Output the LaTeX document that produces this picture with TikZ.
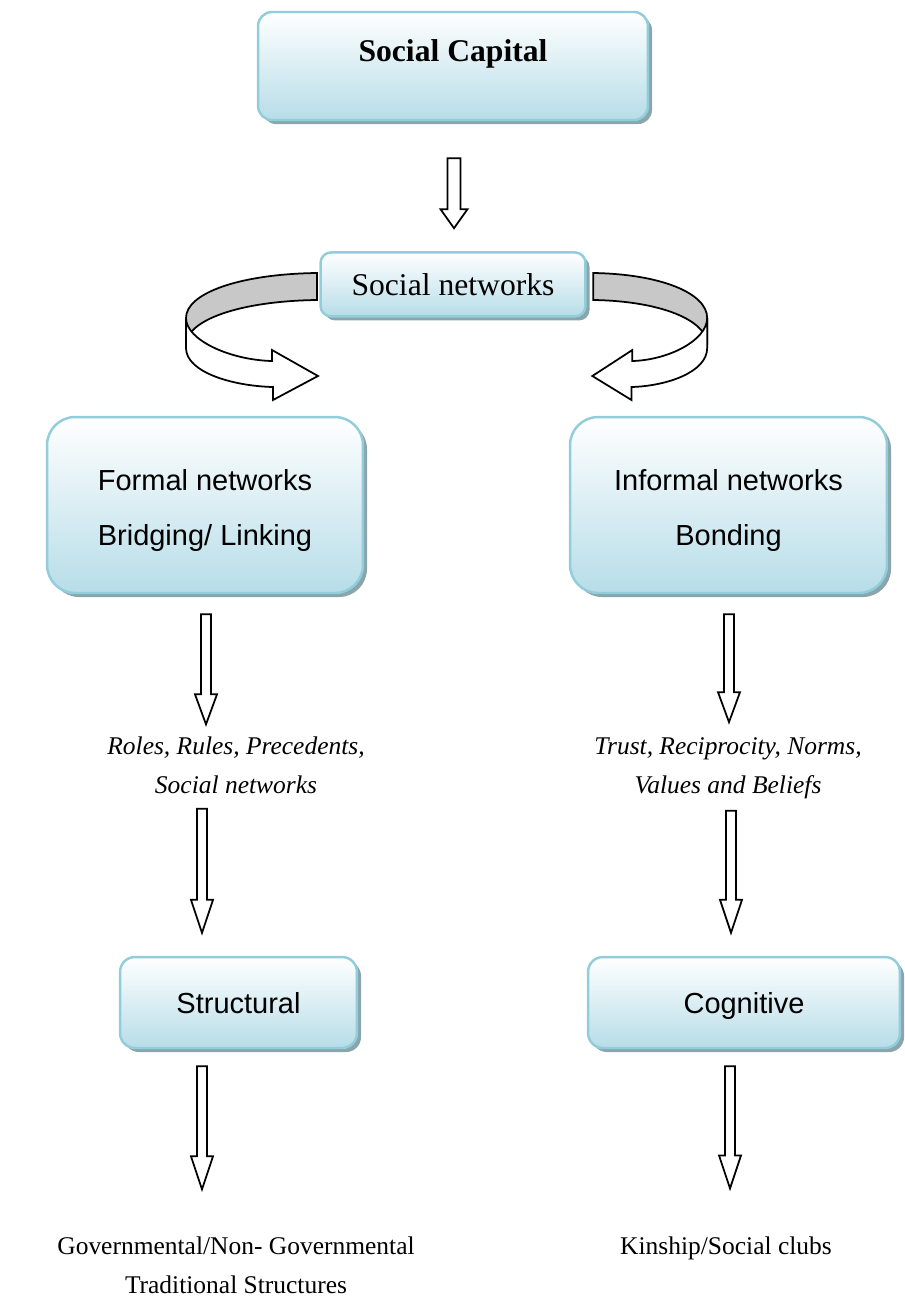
\documentclass[tikz,border=0pt]{standalone}
\usepackage{fontspec}
\setmainfont{Liberation Serif}
\setsansfont{Liberation Sans}
\usetikzlibrary{positioning,calc,shadows}
\definecolor{boxline}{RGB}{146,205,220}
\definecolor{boxfill}{RGB}{183,221,232}
\definecolor{boxshade}{RGB}{138,166,172}
\definecolor{bandgray}{RGB}{200,200,200}

\begin{document}
\begin{tikzpicture}[x=0.02cm, y=-0.02cm, line width=1pt, font=\fontsize{18}{22}\selectfont,
  bluebox/.style={rectangle, draw=boxline, line width=1.4pt, top color=white, bottom color=boxfill,
    drop shadow={shadow xshift=2.3pt, shadow yshift=-2.3pt, fill=boxshade, opacity=1}},
  sansbox/.style={font=\sffamily\fontsize{16.5}{31.7}\selectfont, align=center},
  notetext/.style={font=\fontsize{14.5}{22}\selectfont, align=center, inner sep=0pt},
  hollow/.style={draw=black, fill=white, line width=1pt, line join=miter}]

  \useasboundingbox (0,0) rectangle (904,1299);

  \node[bluebox] (capital) [rounded corners=8pt, minimum width=7.8cm, minimum height=2.16cm,
    font=\bfseries\fontsize{18}{22}\selectfont, text height=0.45cm, text depth=0.65cm] at (453,66) {Social Capital};
  \node[bluebox] (networks) [rounded corners=6pt, minimum width=5.3cm, minimum height=1.28cm,
    below=2.6cm of capital] {Social networks};

  \node[bluebox, sansbox] (formal) [rounded corners=16pt, minimum width=6.32cm, minimum height=3.52cm]
    at (205,505) {\raisebox{-3.2pt}[\height][\depth]{Formal networks}\\
      \raisebox{-3.2pt}[\height][\depth]{Bridging/ Linking}};
  \node[bluebox, sansbox] (informal) [rounded corners=16pt, minimum width=6.34cm, minimum height=3.52cm]
    at (728.5,505) {\raisebox{-3.2pt}[\height][\depth]{Informal networks}\\
      \raisebox{-3.2pt}[\height][\depth]{Bonding}};

  \node[notetext] (roles) [font=\itshape\fontsize{14.5}{22}\selectfont] at (236,765.5)
    {Roles, Rules, Precedents,\\Social networks};
  \node[notetext] (trust) [font=\itshape\fontsize{14.5}{22}\selectfont] at (728,768.5)
    {Trust, Reciprocity, Norms,\\Values and Beliefs};

  \node[bluebox, sansbox] (structural) [rounded corners=8.5pt, minimum width=4.74cm, minimum height=1.82cm,
    text depth=0pt] at (238.5,1002.5) {Structural};
  \node[bluebox, sansbox] (cognitive) [rounded corners=8.5pt, minimum width=6.24cm, minimum height=1.82cm,
    text depth=0pt] at (744,1002.5) {Cognitive};

  \node[notetext] (govern) at (236,1265.5) {Governmental/Non- Governmental\\Traditional Structures};
  \node[notetext] (kinship) [anchor=base] at (726,1254) {Kinship/Social clubs};

  \coordinate (t1) at ($(capital.south)+(1,37)$);
  \coordinate (h1) at ($(networks.north)+(1,-23)$);
  \coordinate (t2) at ($(formal.south)+(1,20)$);
  \coordinate (h2) at ($(roles.north)+(-30,-12)$);
  \coordinate (u2) at ($(informal.south)+(0.5,20)$);
  \coordinate (k2) at ($(trust.north)+(1,-15)$);
  \coordinate (t3) at ($(roles.south)+(-34,14)$);
  \coordinate (h3) at ($(structural.north)+(-36.5,-23)$);
  \coordinate (u3) at ($(trust.south)+(3,11)$);
  \coordinate (k3) at ($(cognitive.north)+(-13,-23)$);
  \coordinate (t4) at ($(structural.south)+(-36.5,17)$);
  \coordinate (h4) at ($(govern.north)+(-34,-47)$);
  \coordinate (u4) at ($(cognitive.south)+(-14,17)$);
  \coordinate (k4) at ($(kinship.north)+(4,-47)$);

  \foreach \s/\e/\w/\hw/\hl in {t1/h1/6.5/13.5/19,t2/h2/5/11/30,u2/k2/5/11/30,t3/h3/5/11/33,
      u3/k3/5/11/33,t4/h4/5/11/33,u4/k4/5/11/33}
    \draw[hollow] ($(\s)+(-\w,0)$) -- ($(\e)+(-\w,-\hl)$) -- ($(\e)+(-\hw,-\hl)$) -- (\e)
      -- ($(\e)+(\hw,-\hl)$) -- ($(\e)+(\w,-\hl)$) -- ($(\s)+(\w,0)$) -- cycle;

  \foreach \sx/\sc in {0/1,869/-0.87}{
    \begin{scope}[shift={(\sx,0)}, xscale=\sc]
      \filldraw[fill=bandgray] (317,273) .. controls (240,274) and (186,293) .. (186,318)
        -- (186,345) .. controls (186,320) and (240,301) .. (317,300) -- cycle;
      \filldraw[fill=white] (186,318) -- (186,348) .. controls (186,372) and (232,386) .. (273,387)
        -- (273,400) -- (318,376) -- (272,350) -- (272,361) .. controls (230,360) and (186,340) .. (186,318) -- cycle;
    \end{scope}
  }

\end{tikzpicture}
\end{document}
